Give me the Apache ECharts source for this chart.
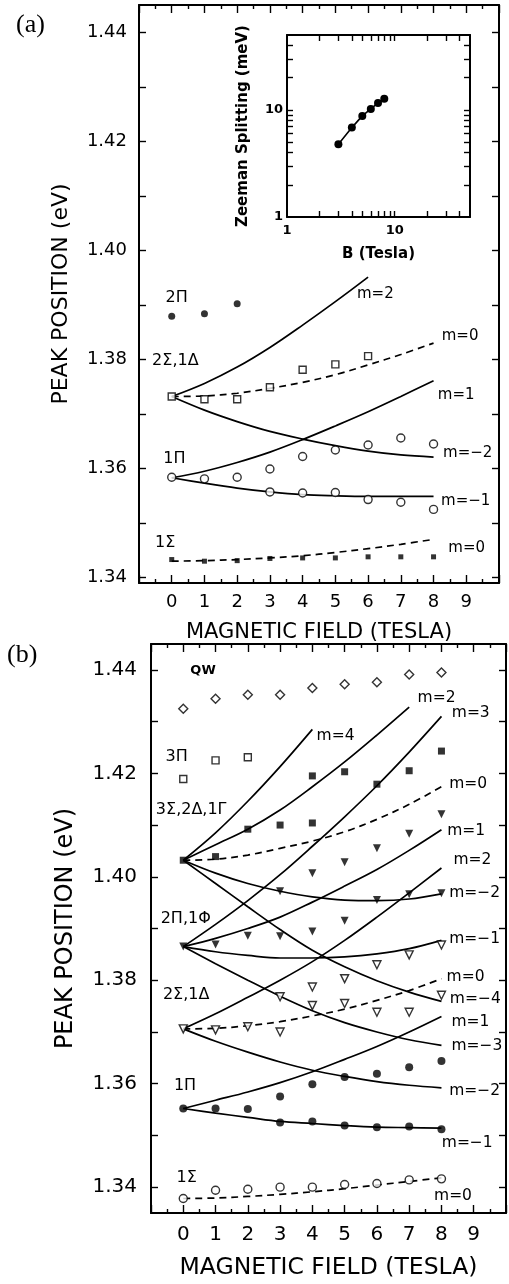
<!DOCTYPE html>
<html>
<head>
<meta charset="utf-8">
<script src="https://cdn.jsdelivr.net/npm/echarts/dist/echarts.min.js"></script>
<style>
html,body{margin:0;padding:0;background:#fff;}
#c{width:509px;height:1284px;}
</style>
</head>
<body>
<div id="c"></div>
<script>
// ---------- shared ----------
const fieldB = [0, 1, 2, 3, 4, 5, 6, 7, 8];
const xTickLabels = [0, 1, 2, 3, 4, 5, 6, 7, 8, 9];

// ---------- panel (a) ----------
const aYLabels = [1.34, 1.36, 1.38, 1.40, 1.42, 1.44];
const aYTicks = [1.34, 1.35, 1.36, 1.37, 1.38, 1.39, 1.40, 1.41, 1.42, 1.43, 1.44];

// theory curves, value at B = 0,1,2,...
const aCurve2S_m2  = [1.3732, 1.3756, 1.3786, 1.3822, 1.3863, 1.3906, 1.3951];
const aCurve2S_m0  = [1.3732, 1.3733, 1.3738, 1.3747, 1.3758, 1.3772, 1.3790, 1.3809, 1.3830];
const aCurve2S_mm2 = [1.3732, 1.3707, 1.3686, 1.3668, 1.3654, 1.3642, 1.3632, 1.3625, 1.3621];
const aCurve1P_m1  = [1.3583, 1.3595, 1.3611, 1.3630, 1.3653, 1.3678, 1.3704, 1.3732, 1.3761];
const aCurve1P_mm1 = [1.3583, 1.3573, 1.3564, 1.3557, 1.3552, 1.3550, 1.3549, 1.3549, 1.3549];
const aCurve1S_m0  = [1.3430, 1.3431, 1.3433, 1.3436, 1.3440, 1.3446, 1.3453, 1.3461, 1.3470];

// measured peaks
const a2PiB = [0, 1, 2];
const a2PiE = [1.3879, 1.3884, 1.3902];
const a2SigB = [0, 1, 2, 3, 4, 5, 6];
const a2SigE = [1.3732, 1.3727, 1.3727, 1.3749, 1.3781, 1.3791, 1.3806];
const a1PiB = [0, 1, 2, 3, 4, 5, 6, 7, 8, 3, 4, 5, 6, 7, 8];
const a1PiE = [1.3584, 1.3581, 1.3584, 1.3599, 1.3622, 1.3634, 1.3643, 1.3656, 1.3645,
               1.3557, 1.3555, 1.3556, 1.3543, 1.3538, 1.3525];
const a1SigB = [0, 1, 2, 3, 4, 5, 6, 7, 8];
const a1SigE = [1.3433, 1.3430, 1.3431, 1.3435, 1.3436, 1.3436, 1.3438, 1.3438, 1.3438];

// annotations (a)
const aNoteText = ['2Π', '2Σ,1Δ', '1Π', '1Σ', 'm=2', 'm=0', 'm=1', 'm=−2', 'm=−1', 'm=0'];
const aNoteB    = [-0.19, -0.60, -0.26, -0.51, 5.66, 8.25, 8.13, 8.29, 8.23, 8.45];
const aNoteE    = [1.3913, 1.3798, 1.3617, 1.3463, 1.3920, 1.3843, 1.3735, 1.3628, 1.3540, 1.3454];

// inset
const insetB = [3, 4, 5, 6, 7, 8];
const insetZ = [4.77, 6.83, 8.79, 10.2, 11.6, 12.7];
const insetTicks = [2, 3, 4, 5, 6, 7, 8, 9, 10, 20, 30, 40];

// ---------- panel (b) ----------
const bYLabels = [1.34, 1.36, 1.38, 1.40, 1.42, 1.44];
const bYTicks = [1.34, 1.35, 1.36, 1.37, 1.38, 1.39, 1.40, 1.41, 1.42, 1.43, 1.44];

const bCurve3S_m4  = [1.4032, 1.4085, 1.4146, 1.4213, 1.4285];
const bCurve3S_m2  = [1.4032, 1.4062, 1.4092, 1.4129, 1.4174, 1.4222, 1.4274, 1.4328];
const bCurve3S_m0  = [1.4032, 1.4034, 1.4042, 1.4055, 1.4069, 1.4087, 1.4111, 1.4140, 1.4174];
const bCurve3S_mm2 = [1.4032, 1.4007, 1.3987, 1.3972, 1.3961, 1.3955, 1.3954, 1.3957, 1.3967];
const bCurve3S_mm4 = [1.4032, 1.3987, 1.3942, 1.3898, 1.3858, 1.3826, 1.3799, 1.3777, 1.3759];
const bCurve2P_m3  = [1.3865, 1.3908, 1.3954, 1.4004, 1.4059, 1.4116, 1.4176, 1.4241, 1.4310];
const bCurve2P_m1  = [1.3865, 1.3881, 1.3900, 1.3922, 1.3951, 1.3982, 1.4014, 1.4051, 1.4091];
const bCurve2P_mm1 = [1.3865, 1.3855, 1.3848, 1.3843, 1.3843, 1.3845, 1.3851, 1.3861, 1.3877];
const bCurve2P_mm3 = [1.3865, 1.3832, 1.3800, 1.3769, 1.3741, 1.3718, 1.3700, 1.3685, 1.3674];
const bCurve2S_m2  = [1.3706, 1.3735, 1.3767, 1.3800, 1.3836, 1.3877, 1.3922, 1.3969, 1.4017];
const bCurve2S_m0  = [1.3706, 1.3707, 1.3712, 1.3720, 1.3731, 1.3744, 1.3761, 1.3780, 1.3803];
const bCurve2S_mm2 = [1.3706, 1.3682, 1.3661, 1.3642, 1.3626, 1.3614, 1.3604, 1.3597, 1.3592];
const bCurve1P_m1  = [1.3552, 1.3568, 1.3584, 1.3602, 1.3623, 1.3647, 1.3672, 1.3700, 1.3730];
const bCurve1P_mm1 = [1.3552, 1.3543, 1.3535, 1.3527, 1.3523, 1.3519, 1.3516, 1.3515, 1.3514];
const bCurve1S_m0  = [1.3378, 1.3379, 1.3382, 1.3386, 1.3391, 1.3397, 1.3404, 1.3411, 1.3418];

const bQWB = [0, 1, 2, 3, 4, 5, 6, 7, 8];
const bQWE = [1.4325, 1.4344, 1.4352, 1.4352, 1.4365, 1.4372, 1.4376, 1.4391, 1.4395];
const b3PiB = [0, 1, 2];
const b3PiE = [1.4189, 1.4225, 1.4231];
const b3SigB = [0, 1, 2, 3, 4, 4, 5, 6, 7, 8];
const b3SigE = [1.4032, 1.4039, 1.4092, 1.4100, 1.4104, 1.4195, 1.4203, 1.4179, 1.4205, 1.4243];
const bTriFB = [0, 1, 2, 3, 4, 5, 4, 5, 6, 7, 8, 3, 6, 7, 8];
const bTriFE = [1.3865, 1.3869, 1.3886, 1.3885, 1.3894, 1.3915, 1.4007, 1.4028, 1.4055, 1.4083, 1.4121,
                1.3972, 1.3955, 1.3966, 1.3968];
const bTriOB = [0, 1, 2, 3, 3, 4, 4, 5, 5, 6, 6, 7, 7, 8, 8];
const bTriOE = [1.3706, 1.3704, 1.3710, 1.3700, 1.3768, 1.3787, 1.3751, 1.3803, 1.3755, 1.3830, 1.3738,
                1.3849, 1.3738, 1.3868, 1.3771];
const b1PiB = [0, 1, 2, 3, 4, 5, 6, 7, 8, 3, 4, 5, 6, 7, 8];
const b1PiE = [1.3552, 1.3552, 1.3551, 1.3575, 1.3599, 1.3613, 1.3619, 1.3632, 1.3644,
               1.3525, 1.3527, 1.3519, 1.3516, 1.3517, 1.3512];
const b1SigB = [0, 1, 2, 3, 4, 5, 6, 7, 8];
const b1SigE = [1.3378, 1.3394, 1.3396, 1.3400, 1.3400, 1.3405, 1.3407, 1.3414, 1.3416];

const bNoteText = ['3Π', '3Σ,2Δ,1Γ', '2Π,1Φ', '2Σ,1Δ', '1Π', '1Σ',
                   'm=2', 'm=3', 'm=4', 'm=0', 'm=1', 'm=2', 'm=−2', 'm=−1', 'm=0', 'm=−4',
                   'm=1', 'm=−3', 'm=−2', 'm=−1', 'm=0'];
const bNoteB = [-0.55, -0.85, -0.70, -0.63, -0.29, -0.21,
                7.26, 8.32, 4.13, 8.24, 8.18, 8.37, 8.24, 8.24, 8.16, 8.26,
                8.31, 8.31, 8.24, 8.01, 7.77];
const bNoteE = [1.4232, 1.4130, 1.3918, 1.3771, 1.3596, 1.3418,
                1.4345, 1.4317, 1.4272, 1.4179, 1.4089, 1.4032, 1.3969, 1.3880, 1.3807, 1.3763,
                1.3720, 1.3673, 1.3585, 1.3485, 1.3383];
const bQWText = 'QW';
const bQWNoteB = 0.22, bQWNoteE = 1.4398;

// ---------- build ----------
const FONT = 'DejaVu Sans';
const BLACK = '#000';
const pairs = (bs, es) => es.map((e, i) => [bs[i], e]);
const curve = es => es.map((e, i) => [fieldB[i], e]);

function lineS(xi, yi, es, dashed) {
  return {
    type: 'line', xAxisIndex: xi, yAxisIndex: yi, data: curve(es),
    symbol: 'none', showSymbol: false, smooth: 0.35, silent: true, z: 2,
    lineStyle: { color: BLACK, width: 1.7, type: dashed ? [7, 5] : 'solid' }
  };
}
function dotS(xi, yi, bs, es, symbol, size, filled, rotate) {
  return {
    type: 'scatter', xAxisIndex: xi, yAxisIndex: yi, data: pairs(bs, es),
    symbol: symbol, symbolSize: size, symbolRotate: rotate || 0, silent: true, z: 3,
    itemStyle: filled ? { color: BLACK, borderWidth: 0 }
                      : { color: '#fff', borderColor: BLACK, borderWidth: 1.4 }
  };
}
function fieldAxis(grid, pos, fs, margin, name, nameFs, nameGap) {
  const showLab = pos === 'bottom';
  return {
    type: 'value', gridIndex: grid, position: pos, min: -1, max: 10, interval: 1,
    axisLine: { show: true, onZero: false, lineStyle: { color: BLACK, width: 2 } },
    axisTick: { show: true, inside: true, length: 8, lineStyle: { color: BLACK, width: 1.4 } },
    minorTick: { show: true, splitNumber: 2, length: 4, lineStyle: { color: BLACK, width: 1.4 } },
    splitLine: { show: false }, minorSplitLine: { show: false },
    axisLabel: {
      show: showLab, margin: margin, color: BLACK, fontFamily: FONT, fontSize: fs,
      formatter: v => (xTickLabels.indexOf(v) >= 0 ? String(v) : '')
    },
    name: showLab ? name : '', nameLocation: 'middle', nameGap: nameGap,
    nameTextStyle: { color: BLACK, fontFamily: FONT, fontSize: nameFs }
  };
}
function energyAxis(grid, pos, min, max, ticks, labels, fs, margin, name, nameFs, nameGap) {
  const showLab = pos === 'left';
  return {
    type: 'value', gridIndex: grid, position: pos, min: min, max: max,
    axisLine: { show: true, onZero: false, lineStyle: { color: BLACK, width: 2 } },
    axisTick: { show: true, inside: true, length: 7, customValues: ticks,
                lineStyle: { color: BLACK, width: 1.4 } },
    splitLine: { show: false },
    axisLabel: { show: showLab, customValues: labels, margin: margin, color: BLACK,
                 fontFamily: FONT, fontSize: fs, formatter: v => v.toFixed(2) },
    name: showLab ? name : '', nameLocation: 'middle', nameRotate: 90, nameGap: nameGap,
    nameTextStyle: { color: BLACK, fontFamily: FONT, fontSize: nameFs }
  };
}
const decadeFmt = v => {
  const l = Math.log10(v);
  return (Math.abs(l - Math.round(l)) < 1e-6 && v < 20) ? String(Math.round(v)) : '';
};
const insetTickLog = insetTicks.map(t => Math.log10(t));
function insetTickAxis(grid, pos, showLine) {
  return {
    type: 'value', gridIndex: grid, position: pos, min: 0, max: Math.log10(50),
    axisLine: { show: showLine, onZero: false, lineStyle: { color: BLACK, width: 2 } },
    axisTick: { show: true, inside: true, length: 6, customValues: insetTickLog,
                lineStyle: { color: BLACK, width: 1.4 } },
    axisLabel: { show: false }, splitLine: { show: false }
  };
}

const option = {
  animation: false,
  backgroundColor: '#fff',
  grid: [
    { left: 139, top: 5, width: 360, height: 578 },
    { left: 287, top: 35, width: 183, height: 182 },
    { left: 151, top: 644, width: 359, height: 569 }
  ],
  xAxis: [
    fieldAxis(0, 'bottom', 18, 10, 'MAGNETIC FIELD (TESLA)', 21, 39),
    fieldAxis(0, 'top', 18, 10, '', 21, 39),
    {
      type: 'log', logBase: 10, gridIndex: 1, position: 'bottom', min: 1, max: 50,
      axisLine: { show: true, onZero: false, lineStyle: { color: BLACK, width: 2 } },
      axisTick: { show: false }, splitLine: { show: false }, minorTick: { show: false },
      axisLabel: { margin: 7, color: BLACK, fontFamily: FONT, fontSize: 13, fontWeight: 'bold',
                   formatter: decadeFmt },
      name: 'B (Tesla)', nameLocation: 'middle', nameGap: 30,
      nameTextStyle: { color: BLACK, fontFamily: FONT, fontSize: 15, fontWeight: 'bold' }
    },
    insetTickAxis(1, 'bottom', false),
    insetTickAxis(1, 'top', true),
    fieldAxis(2, 'bottom', 20, 12, 'MAGNETIC FIELD (TESLA)', 23.5, 43),
    fieldAxis(2, 'top', 20, 12, '', 23.5, 43)
  ],
  yAxis: [
    energyAxis(0, 'left', 1.339, 1.445, aYTicks, aYLabels, 18, 12, 'PEAK POSITION (eV)', 22, 67),
    energyAxis(0, 'right', 1.339, 1.445, aYTicks, aYLabels, 18, 12, '', 22, 67),
    {
      type: 'log', logBase: 10, gridIndex: 1, position: 'left', min: 1, max: 50,
      axisLine: { show: true, onZero: false, lineStyle: { color: BLACK, width: 2 } },
      axisTick: { show: false }, splitLine: { show: false }, minorTick: { show: false },
      axisLabel: { margin: 4, color: BLACK, fontFamily: FONT, fontSize: 13, fontWeight: 'bold',
                   formatter: decadeFmt },
      name: 'Zeeman Splitting (meV)', nameLocation: 'middle', nameRotate: 90, nameGap: 36,
      nameTextStyle: { color: BLACK, fontFamily: FONT, fontSize: 15, fontWeight: 'bold' }
    },
    insetTickAxis(1, 'left', false),
    insetTickAxis(1, 'right', true),
    energyAxis(2, 'left', 1.335, 1.445, bYTicks, bYLabels, 20, 14, 'PEAK POSITION (eV)', 24, 73),
    energyAxis(2, 'right', 1.335, 1.445, bYTicks, bYLabels, 20, 14, '', 24, 73)
  ],
  series: [
    // panel (a) curves
    lineS(0, 0, aCurve2S_m2, false),
    lineS(0, 0, aCurve2S_m0, true),
    lineS(0, 0, aCurve2S_mm2, false),
    lineS(0, 0, aCurve1P_m1, false),
    lineS(0, 0, aCurve1P_mm1, false),
    lineS(0, 0, aCurve1S_m0, true),
    // panel (a) peaks
    dotS(0, 0, a2PiB, a2PiE, 'circle', 7, true),
    dotS(0, 0, a2SigB, a2SigE, 'rect', 7, false),
    dotS(0, 0, a1PiB, a1PiE, 'circle', 8, false),
    dotS(0, 0, a1SigB, a1SigE, 'rect', 5, true),
    // inset
    {
      type: 'line', xAxisIndex: 2, yAxisIndex: 2, data: pairs(insetB, insetZ),
      symbol: 'circle', symbolSize: 8, silent: true, z: 3,
      itemStyle: { color: BLACK }, lineStyle: { color: BLACK, width: 1.6 }
    },
    // panel (b) curves
    lineS(5, 5, bCurve3S_m4, false),
    lineS(5, 5, bCurve3S_m2, false),
    lineS(5, 5, bCurve3S_m0, true),
    lineS(5, 5, bCurve3S_mm2, false),
    lineS(5, 5, bCurve3S_mm4, false),
    lineS(5, 5, bCurve2P_m3, false),
    lineS(5, 5, bCurve2P_m1, false),
    lineS(5, 5, bCurve2P_mm1, false),
    lineS(5, 5, bCurve2P_mm3, false),
    lineS(5, 5, bCurve2S_m2, false),
    lineS(5, 5, bCurve2S_m0, true),
    lineS(5, 5, bCurve2S_mm2, false),
    lineS(5, 5, bCurve1P_m1, false),
    lineS(5, 5, bCurve1P_mm1, false),
    lineS(5, 5, bCurve1S_m0, true),
    // panel (b) peaks
    dotS(5, 5, bQWB, bQWE, 'diamond', 9, false),
    dotS(5, 5, b3PiB, b3PiE, 'rect', 7, false),
    dotS(5, 5, b3SigB, b3SigE, 'rect', 7, true),
    dotS(5, 5, bTriFB, bTriFE, 'triangle', 8, true, 180),
    dotS(5, 5, bTriOB, bTriOE, 'triangle', 8, false, 180),
    dotS(5, 5, b1PiB, b1PiE, 'circle', 8, true),
    dotS(5, 5, b1SigB, b1SigE, 'circle', 8, false)
  ]
};

const chart = echarts.init(document.getElementById('c'), null, { renderer: 'canvas' });
chart.setOption(option);

function note(finder, b, e, text, font) {
  const p = chart.convertToPixel(finder, [b, e]);
  return {
    type: 'text', x: p[0], y: p[1], silent: true, z: 10,
    style: { text: text, font: font, fill: BLACK, textAlign: 'left', textVerticalAlign: 'middle' }
  };
}
const graphics = [];
aNoteText.forEach((t, i) => {
  const f = t.indexOf('m=') === 0 ? '15px "DejaVu Sans"' : '16px "DejaVu Sans"';
  graphics.push(note({ xAxisIndex: 0, yAxisIndex: 0 }, aNoteB[i], aNoteE[i], t, f));
});
bNoteText.forEach((t, i) => {
  const f = t.indexOf('m=') === 0 ? '15.5px "DejaVu Sans"' : '16px "DejaVu Sans"';
  graphics.push(note({ xAxisIndex: 5, yAxisIndex: 5 }, bNoteB[i], bNoteE[i], t, f));
});
graphics.push(note({ xAxisIndex: 5, yAxisIndex: 5 }, bQWNoteB, bQWNoteE, bQWText, 'bold 13px "DejaVu Sans"'));
graphics.push({ type: 'text', x: 16, y: 25, silent: true,
  style: { text: '(a)', font: '26px "Liberation Serif"', fill: BLACK, textAlign: 'left', textVerticalAlign: 'middle' } });
graphics.push({ type: 'text', x: 7, y: 655, silent: true,
  style: { text: '(b)', font: '26px "Liberation Serif"', fill: BLACK, textAlign: 'left', textVerticalAlign: 'middle' } });
chart.setOption({ graphic: graphics });
</script>
</body>
</html>
